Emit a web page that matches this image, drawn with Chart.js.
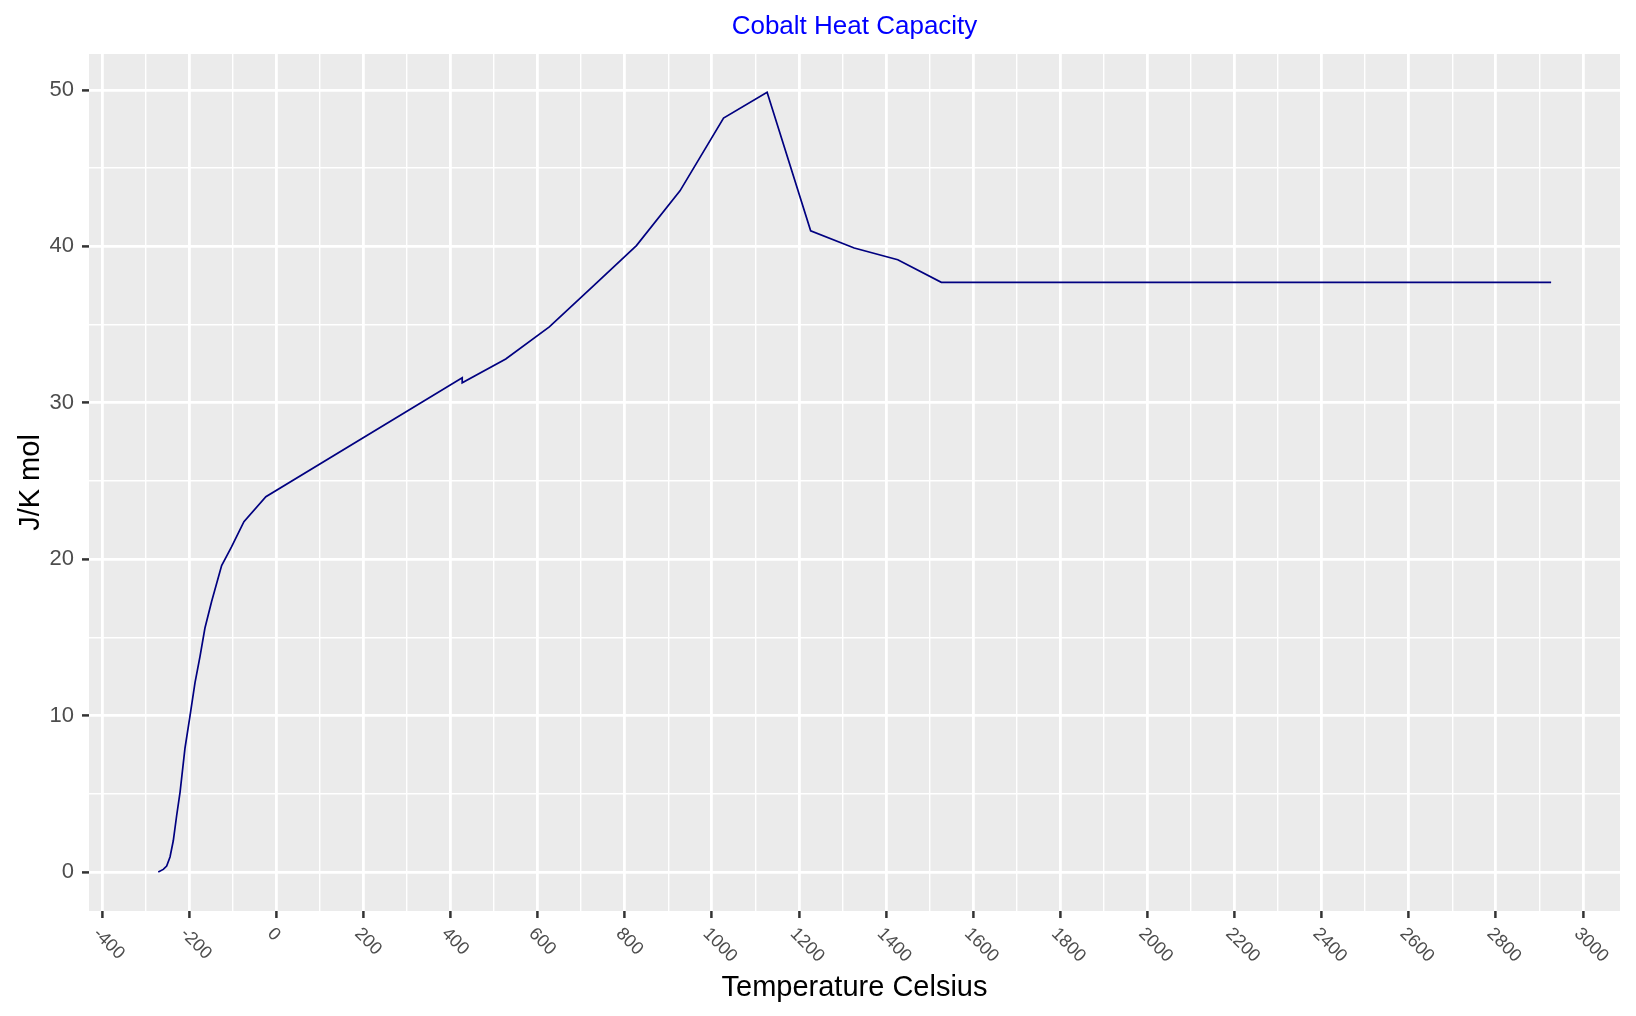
<!DOCTYPE html>
<html>
<head>
<meta charset="utf-8">
<script src="https://cdn.jsdelivr.net/npm/chart.js@4.4.1/dist/chart.umd.min.js"></script>
<style>
html,body{margin:0;padding:0;background:#ffffff;}
canvas{display:block;}
</style>
</head>
<body>
<canvas id="c" width="1636" height="1016" style="width:1636px;height:1016px"></canvas>
<script>
// ---- data ----
const tempCelsius = [-271, -259.5, -251.7, -244, -236.5, -228.8, -221, -209.7, -198, -186.7, -175, -163.8, -148.5, -125.5, -102.5, -74.3, -23.9, 426.85, 426.85, 526.85, 626.85, 726.85, 826.85, 926.85, 1026.85, 1126.85, 1226.85, 1326.85, 1426.85, 1526.85, 2926.85];
const heatCapacity = [0, 0.17, 0.38, 0.96, 2.0, 3.6, 5.1, 7.9, 10.0, 12.1, 13.8, 15.6, 17.3, 19.6, 20.8, 22.4, 24.0, 31.6, 31.28, 32.8, 34.85, 37.45, 40.05, 43.55, 48.2, 49.85, 41.0, 39.9, 39.15, 37.7, 37.7];
const xTickLabels = ['-400','-200','0','200','400','600','800','1000','1200','1400','1600','1800','2000','2200','2400','2600','2800','3000'];
const yTickLabels = ['0','10','20','30','40','50'];
const chartTitle = 'Cobalt Heat Capacity';
const xAxisTitle = 'Temperature Celsius';
const yAxisTitle = 'J/K mol';

const FONT = '"Liberation Sans", Arial, Helvetica, sans-serif';
Chart.defaults.font.family = FONT;

const points = tempCelsius.map((t, i) => ({x: t, y: heatCapacity[i]}));

const isMajorX = c => c.tick && Math.abs(Math.round(c.tick.value)) % 200 === 0;
const isMajorY = c => c.tick && Math.abs(Math.round(c.tick.value)) % 10 === 0;

const decor = {
  id: 'decor',
  beforeDraw(chart) {
    const {ctx, chartArea: a} = chart;
    ctx.save();
    ctx.fillStyle = '#EBEBEB';
    ctx.fillRect(a.left, a.top, a.right - a.left, a.bottom - a.top);
    ctx.restore();
  },
  afterDraw(chart) {
    const {ctx, chartArea: a, scales} = chart;
    const xs = scales.x;
    ctx.save();
    // rotated x tick labels
    ctx.fillStyle = '#4D4D4D';
    ctx.font = '18px ' + FONT;
    ctx.textAlign = 'left';
    ctx.textBaseline = 'middle';
    xTickLabels.forEach(l => {
      const px = xs.getPixelForValue(Number(l));
      ctx.save();
      ctx.translate(px - 6, a.bottom + 20);
      ctx.rotate(Math.PI / 4);
      ctx.fillText(l, 0, 0);
      ctx.restore();
    });
    // chart title
    ctx.fillStyle = '#0000FF';
    ctx.font = '26px ' + FONT;
    ctx.textAlign = 'center';
    ctx.textBaseline = 'alphabetic';
    ctx.fillText(chartTitle, (a.left + a.right) / 2, 34);
    // axis titles
    ctx.fillStyle = '#000000';
    ctx.font = '29px ' + FONT;
    ctx.fillText(xAxisTitle, (a.left + a.right) / 2, 996);
    ctx.save();
    ctx.translate(39, (a.top + a.bottom) / 2);
    ctx.rotate(-Math.PI / 2);
    ctx.fillText(yAxisTitle, 0, 0);
    ctx.restore();
    ctx.restore();
  }
};

new Chart(document.getElementById('c').getContext('2d'), {
  type: 'line',
  data: {
    datasets: [{
      data: points,
      borderColor: '#000080',
      borderWidth: 1.7,
      pointRadius: 0,
      pointHoverRadius: 0,
      tension: 0,
      fill: false
    }]
  },
  options: {
    responsive: false,
    animation: false,
    devicePixelRatio: 1,
    events: [],
    layout: {padding: {top: 54, right: 16, left: 0, bottom: 0}},
    plugins: {legend: {display: false}, title: {display: false}, tooltip: {enabled: false}},
    scales: {
      x: {
        type: 'linear',
        min: -430,
        max: 3085,
        afterFit(s) { s.height = 105; },
        border: {display: false},
        ticks: {display: false, stepSize: 100, includeBounds: false, maxTicksLimit: 100, autoSkip: false},
        grid: {
          color: '#FFFFFF',
          lineWidth: c => isMajorX(c) ? 2.8 : 1.4,
          drawTicks: true,
          tickLength: 7,
          tickWidth: 2.5,
          tickColor: c => isMajorX(c) ? '#333333' : 'rgba(0,0,0,0)'
        }
      },
      y: {
        type: 'linear',
        min: -2.49,
        max: 52.3,
        afterFit(s) { s.width = 89; },
        border: {display: false},
        ticks: {
          stepSize: 5,
          includeBounds: false,
          maxTicksLimit: 100,
          autoSkip: false,
          padding: 8,
          color: '#4D4D4D',
          font: {size: 22, family: FONT},
          callback: v => yTickLabels.includes(String(v)) ? String(v) : ''
        },
        grid: {
          color: '#FFFFFF',
          lineWidth: c => isMajorY(c) ? 2.8 : 1.4,
          drawTicks: true,
          tickLength: 7,
          tickWidth: 2.5,
          tickColor: c => isMajorY(c) ? '#333333' : 'rgba(0,0,0,0)'
        }
      }
    }
  },
  plugins: [decor]
});
</script>
</body>
</html>
